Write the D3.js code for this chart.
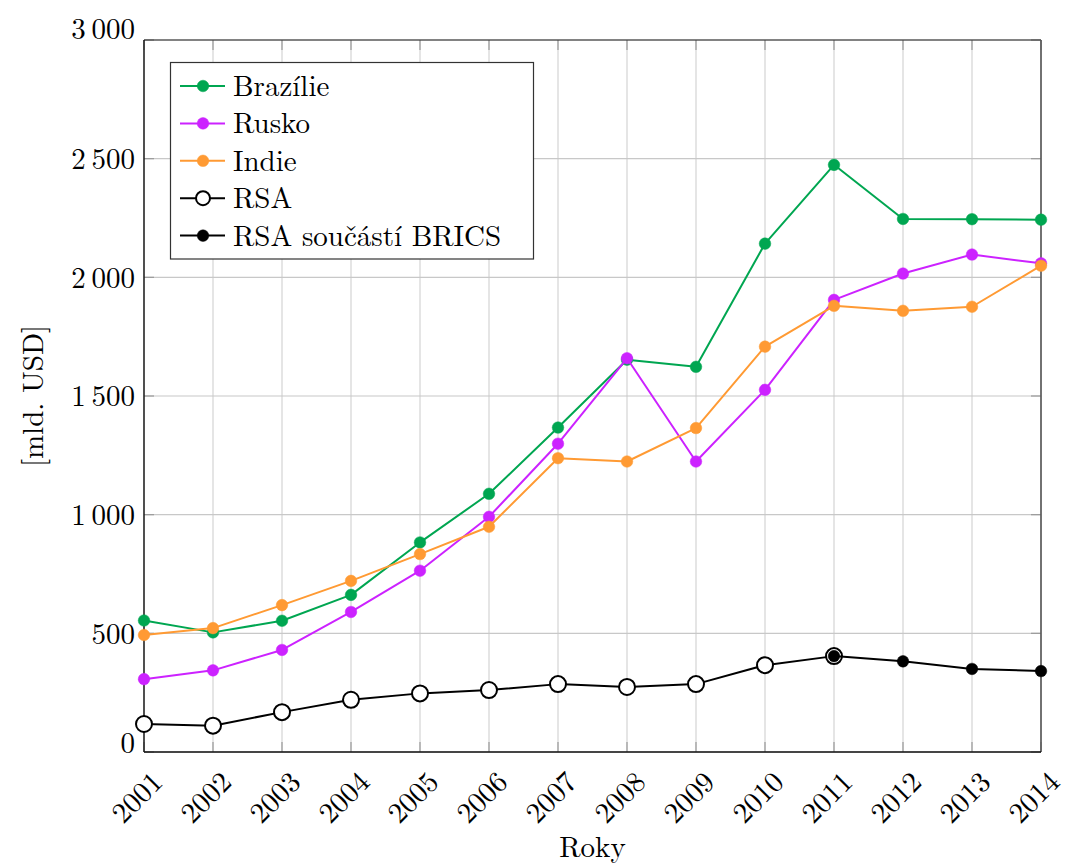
<!DOCTYPE html>
<html>
<head>
<meta charset="utf-8">
<script src="https://cdn.jsdelivr.net/npm/d3@7"></script>
<style>
  html, body { margin: 0; padding: 0; background: #fff; }
  svg { display: block; }
  text { font-family: "Latin Modern Roman", "CMU Serif", "Liberation Serif", serif; fill: #000; }
</style>
</head>
<body>
<svg id="chart" width="1069" height="866"></svg>
<script>
// ---- data ----
const years = [2001, 2002, 2003, 2004, 2005, 2006, 2007, 2008, 2009, 2010, 2011, 2012, 2013, 2014];
const brazilie = [554, 504, 553, 662, 883, 1088, 1367, 1653, 1623, 2142, 2474, 2246, 2245, 2243];
const rusko    = [307, 344, 430, 590, 764, 991, 1299, 1659, 1224, 1526, 1905, 2016, 2096, 2059];
const indie    = [493, 522, 619, 721, 834, 949, 1238, 1224, 1365, 1708, 1880, 1859, 1876, 2049];
const rsaYears = [2001, 2002, 2003, 2004, 2005, 2006, 2007, 2008, 2009, 2010, 2011];
const rsa      = [118, 111, 168, 220, 247, 261, 286, 274, 286, 366, 404];
const bricsYears = [2011, 2012, 2013, 2014];
const rsaBrics   = [404, 382, 350, 341];
const yTicks = [0, 500, 1000, 1500, 2000, 2500, 3000];
const seriesNames = ["Brazílie", "Rusko", "Indie", "RSA", "RSA součástí BRICS"];
const xTitle = "Roky";
const yTitle = "[mld. USD]";

// ---- layout ----
const L = 144, R = 1041, T = 40, B = 752;
const FS = 29;
const svg = d3.select("#chart");
const x = d3.scaleLinear().domain([2001, 2014]).range([L, R]);
const y = d3.scaleLinear().domain([0, 3000]).range([B, T]);
const loc = d3.formatLocale({decimal: ",", thousands: "\u2009", grouping: [3], currency: ["", ""]});
const fmt = loc.format(",d");

// grid
const grid = svg.append("g");
grid.selectAll(".gx").data(years).join("line")
  .attr("x1", d => x(d)).attr("x2", d => x(d)).attr("y1", T).attr("y2", B)
  .attr("stroke", "#d4d4d4").attr("stroke-width", 1.2);
grid.selectAll(".gy").data(yTicks).join("line")
  .attr("x1", L).attr("x2", R).attr("y1", d => y(d)).attr("y2", d => y(d))
  .attr("stroke", "#c8c8c8").attr("stroke-width", 1.2);

// inner tick marks
const ticks = svg.append("g").attr("stroke", "#9a9a9a").attr("stroke-width", 1.2);
years.forEach(d => {
  ticks.append("line").attr("x1", x(d)).attr("x2", x(d)).attr("y1", B).attr("y2", B - 10);
  ticks.append("line").attr("x1", x(d)).attr("x2", x(d)).attr("y1", T).attr("y2", T + 10);
});
yTicks.forEach(d => {
  ticks.append("line").attr("x1", L).attr("x2", L + 10).attr("y1", y(d)).attr("y2", y(d));
  ticks.append("line").attr("x1", R).attr("x2", R - 10).attr("y1", y(d)).attr("y2", y(d));
});

// frame
svg.append("line").attr("x1", L).attr("x2", R).attr("y1", T).attr("y2", T).attr("stroke", "#222").attr("stroke-width", 1.2);
svg.append("line").attr("x1", R).attr("x2", R).attr("y1", T).attr("y2", B).attr("stroke", "#555").attr("stroke-width", 1.6);
svg.append("line").attr("x1", L).attr("x2", R).attr("y1", B).attr("y2", B).attr("stroke", "#111").attr("stroke-width", 1.4);
svg.append("line").attr("x1", L).attr("x2", L).attr("y1", T).attr("y2", B).attr("stroke", "#111").attr("stroke-width", 1.4);

// y axis labels
const yAxis = svg.append("g").attr("transform", `translate(${L},0)`)
  .call(d3.axisLeft(y).tickValues(yTicks).tickFormat(fmt).tickSize(0).tickPadding(9));
yAxis.select(".domain").remove();
yAxis.selectAll("text").attr("font-size", FS).attr("font-family", null)
  .attr("dy", d => d === 3000 ? "-0.05em" : (d === 0 ? "0.02em" : "0.34em"));

// x axis labels
const xAxis = svg.append("g").attr("transform", `translate(0,${B})`)
  .call(d3.axisBottom(x).tickValues(years).tickFormat(d3.format("d")).tickSize(0));
xAxis.select(".domain").remove();
xAxis.selectAll("text")
  .attr("font-size", FS).attr("font-family", null)
  .attr("y", 0).attr("dy", null)
  .attr("text-anchor", "end")
  .attr("dominant-baseline", "central")
  .attr("transform", "translate(11,23) rotate(-45)");

// titles
svg.append("text").attr("x", (L + R) / 2).attr("y", 857).attr("text-anchor", "middle")
  .attr("font-size", FS).text(xTitle);
svg.append("text").attr("transform", `translate(30,${(T + B) / 2}) rotate(-90)`)
  .attr("text-anchor", "middle").attr("dominant-baseline", "central")
  .attr("font-size", FS).text(yTitle);

// series
const series = [
  {name: seriesNames[0], xs: years, vs: brazilie, color: "#00a651", open: false},
  {name: seriesNames[1], xs: years, vs: rusko, color: "#cc22ff", open: false},
  {name: seriesNames[2], xs: years, vs: indie, color: "#ff9a33", open: false},
  {name: seriesNames[3], xs: rsaYears, vs: rsa, color: "#000", open: true},
  {name: seriesNames[4], xs: bricsYears, vs: rsaBrics, color: "#000", open: false}
];
const line = d3.line().x(d => x(d[0])).y(d => y(d[1]));
series.forEach(s => {
  const pts = s.xs.map((yr, i) => [yr, s.vs[i]]);
  const g = svg.append("g");
  g.append("path").datum(pts).attr("d", line).attr("fill", "none")
    .attr("stroke", s.color).attr("stroke-width", 2).attr("stroke-linejoin", "round");
  g.selectAll("circle").data(pts).join("circle")
    .attr("cx", d => x(d[0])).attr("cy", d => y(d[1]))
    .attr("r", s.open ? 8 : 5.8)
    .attr("fill", s.open ? "#fff" : s.color)
    .attr("stroke", s.color).attr("stroke-width", s.open ? 2 : 0.5);
});

// legend
const lg = svg.append("g");
lg.append("rect").attr("x", 170.5).attr("y", 62.5).attr("width", 363).attr("height", 196.5)
  .attr("fill", "#fff").attr("stroke", "#333").attr("stroke-width", 1.2);
series.forEach((s, i) => {
  const cy = 86 + i * 37.4;
  lg.append("line").attr("x1", 180).attr("x2", 225).attr("y1", cy).attr("y2", cy)
    .attr("stroke", s.color).attr("stroke-width", 2);
  lg.append("circle").attr("cx", 203).attr("cy", cy).attr("r", s.open ? 7 : 5.8)
    .attr("fill", s.open ? "#fff" : s.color).attr("stroke", s.color).attr("stroke-width", s.open ? 2 : 0.5);
  lg.append("text").attr("x", 233).attr("y", cy + 10).attr("font-size", FS).text(s.name);
});
</script>
</body>
</html>
